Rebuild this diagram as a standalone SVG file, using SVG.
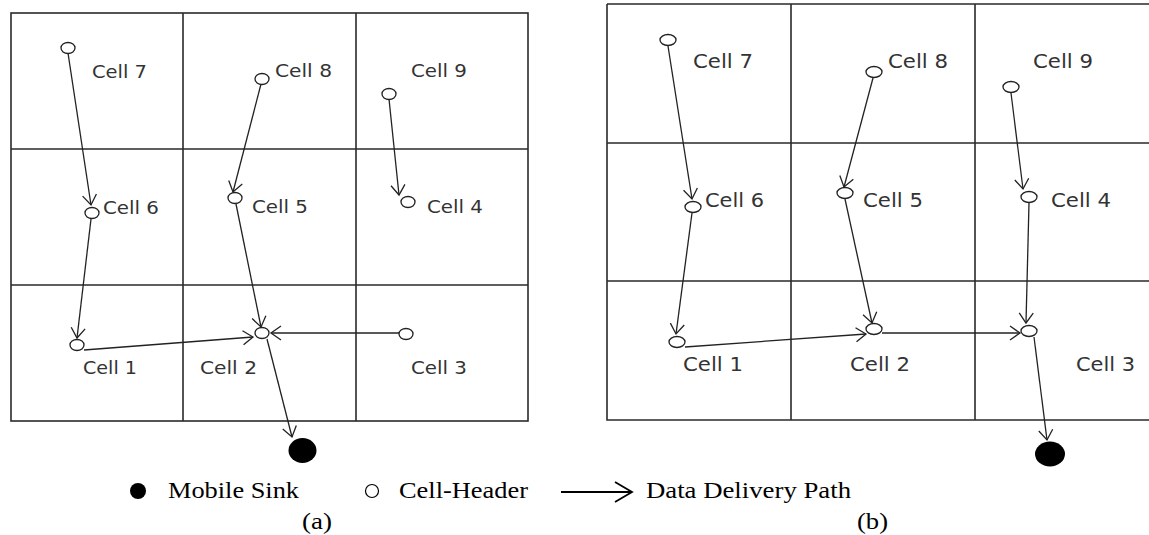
<svg xmlns="http://www.w3.org/2000/svg" width="1149" height="535" viewBox="0 0 1149 535">
<style>
.grid{fill:none;stroke:#2a2a2a;stroke-width:1.6}
.hdr{fill:#fff;stroke:#222;stroke-width:1.3}
.sink{fill:#000}
.lbl{font-family:"DejaVu Sans",sans-serif;font-size:18px;fill:#333}
.lblb{font-family:"DejaVu Sans",sans-serif;font-size:19px;fill:#333}
.edge{fill:none;stroke:#222;stroke-width:1.3;marker-end:url(#arr)}
.leg{font-family:"Liberation Serif","Times New Roman",serif;font-size:24px;fill:#000}
</style>
<defs>
<marker id="arr" viewBox="0 0 13 16" refX="11" refY="8" markerWidth="13" markerHeight="16" markerUnits="userSpaceOnUse" orient="auto">
<path d="M1,1 L11,8 L1,15" fill="none" stroke="#222" stroke-width="1.3"/>
</marker>
</defs>
<g id="grid-a">
<rect class="grid" x="11" y="13" width="517" height="408"/>
<path class="grid" d="M183,13 V421 M356,13 V421 M11,149 H528 M11,285 H528"/>
</g>
<g id="grid-b">
<path class="grid" d="M607,4 H1160 M607,4 V420 H1160 M791,4 V420 M975,4 V420 M607,143 H1160 M607,281 H1160"/>
</g>
<g id="connectors">
<path class="edge" d="M68,53 L91,205"/>
<path class="edge" d="M261,84 L233,192"/>
<path class="edge" d="M389,99 L399,195"/>
<path class="edge" d="M91,219 L77,338"/>
<path class="edge" d="M236,204 L261,327"/>
<path class="edge" d="M84,350 L253,337"/>
<path class="edge" d="M399,333 L271,333"/>
<path class="edge" d="M267,339 L292,437"/>
<path class="edge" d="M668,46 L692,199"/>
<path class="edge" d="M873,78 L844,187"/>
<path class="edge" d="M1011,93 L1023,189"/>
<path class="edge" d="M692,213 L676,334"/>
<path class="edge" d="M845,199 L872,323"/>
<path class="edge" d="M685,347 L866,334"/>
<path class="edge" d="M882,333 L1020,333"/>
<path class="edge" d="M1029,203 L1026,323"/>
<path class="edge" d="M1034,337 L1047,440"/>
</g>
<g id="a-cell7"><ellipse class="hdr" cx="68" cy="48" rx="7" ry="5.5"/><text class="lbl" x="92" y="78" textLength="55" lengthAdjust="spacingAndGlyphs">Cell 7</text></g>
<g id="a-cell8"><ellipse class="hdr" cx="262" cy="79" rx="7" ry="5.5"/><text class="lbl" x="275" y="77" textLength="57" lengthAdjust="spacingAndGlyphs">Cell 8</text></g>
<g id="a-cell9"><ellipse class="hdr" cx="389" cy="94" rx="7" ry="5.5"/><text class="lbl" x="411" y="77" textLength="56" lengthAdjust="spacingAndGlyphs">Cell 9</text></g>
<g id="a-cell6"><ellipse class="hdr" cx="92" cy="213" rx="7" ry="5.5"/><text class="lbl" x="103" y="214" textLength="56" lengthAdjust="spacingAndGlyphs">Cell 6</text></g>
<g id="a-cell5"><ellipse class="hdr" cx="235" cy="198" rx="7" ry="5.5"/><text class="lbl" x="252" y="213" textLength="56" lengthAdjust="spacingAndGlyphs">Cell 5</text></g>
<g id="a-cell4"><ellipse class="hdr" cx="408" cy="202" rx="7" ry="5.5"/><text class="lbl" x="427" y="213" textLength="56" lengthAdjust="spacingAndGlyphs">Cell 4</text></g>
<g id="a-cell1"><ellipse class="hdr" cx="77" cy="345" rx="7" ry="5.5"/><text class="lbl" x="83" y="374" textLength="54" lengthAdjust="spacingAndGlyphs">Cell 1</text></g>
<g id="a-cell2"><ellipse class="hdr" cx="262" cy="333" rx="7" ry="5.5"/><text class="lbl" x="200" y="374" textLength="57" lengthAdjust="spacingAndGlyphs">Cell 2</text></g>
<g id="a-cell3"><ellipse class="hdr" cx="406" cy="334" rx="7" ry="5.5"/><text class="lbl" x="411" y="374" textLength="56" lengthAdjust="spacingAndGlyphs">Cell 3</text></g>
<g id="a-sink"><ellipse class="sink" cx="302.5" cy="450.5" rx="14" ry="12.5"/></g>
<g id="b-cell7"><ellipse class="hdr" cx="668" cy="40" rx="8" ry="5.5"/><text class="lblb" x="693" y="68" textLength="60" lengthAdjust="spacingAndGlyphs">Cell 7</text></g>
<g id="b-cell8"><ellipse class="hdr" cx="874" cy="72" rx="8" ry="5.5"/><text class="lblb" x="888" y="68" textLength="60" lengthAdjust="spacingAndGlyphs">Cell 8</text></g>
<g id="b-cell9"><ellipse class="hdr" cx="1011" cy="87" rx="8" ry="5.5"/><text class="lblb" x="1033" y="68" textLength="60" lengthAdjust="spacingAndGlyphs">Cell 9</text></g>
<g id="b-cell6"><ellipse class="hdr" cx="693" cy="207" rx="8" ry="5.5"/><text class="lblb" x="705" y="207" textLength="59" lengthAdjust="spacingAndGlyphs">Cell 6</text></g>
<g id="b-cell5"><ellipse class="hdr" cx="845" cy="193" rx="8" ry="5.5"/><text class="lblb" x="863" y="207" textLength="60" lengthAdjust="spacingAndGlyphs">Cell 5</text></g>
<g id="b-cell4"><ellipse class="hdr" cx="1029" cy="197" rx="8" ry="5.5"/><text class="lblb" x="1051" y="207" textLength="60" lengthAdjust="spacingAndGlyphs">Cell 4</text></g>
<g id="b-cell1"><ellipse class="hdr" cx="677" cy="342" rx="8" ry="5.5"/><text class="lblb" x="683" y="371" textLength="60" lengthAdjust="spacingAndGlyphs">Cell 1</text></g>
<g id="b-cell2"><ellipse class="hdr" cx="874" cy="329" rx="8" ry="5.5"/><text class="lblb" x="850" y="371" textLength="60" lengthAdjust="spacingAndGlyphs">Cell 2</text></g>
<g id="b-cell3"><ellipse class="hdr" cx="1029" cy="331" rx="8" ry="5.5"/><text class="lblb" x="1076" y="371" textLength="59" lengthAdjust="spacingAndGlyphs">Cell 3</text></g>
<g id="b-sink"><ellipse class="sink" cx="1050" cy="454" rx="15" ry="12.5"/></g>
<g id="legend">
<ellipse class="sink" cx="138" cy="491" rx="8" ry="8"/>
<text class="leg" x="168" y="498" textLength="131" lengthAdjust="spacingAndGlyphs">Mobile Sink</text>
<ellipse cx="372" cy="491" rx="6.5" ry="6.5" fill="#fff" stroke="#000" stroke-width="1.2"/>
<text class="leg" x="399" y="498" textLength="129" lengthAdjust="spacingAndGlyphs">Cell-Header</text>
<path d="M561,492 H632 M615,482 L632,492 L615,502" fill="none" stroke="#000" stroke-width="1.8"/>
<text class="leg" x="646" y="498" textLength="205" lengthAdjust="spacingAndGlyphs">Data Delivery Path</text>
<text class="leg" x="302" y="529" textLength="30" lengthAdjust="spacingAndGlyphs">(a)</text>
<text class="leg" x="857" y="529" textLength="31" lengthAdjust="spacingAndGlyphs">(b)</text>
</g>
</svg>
